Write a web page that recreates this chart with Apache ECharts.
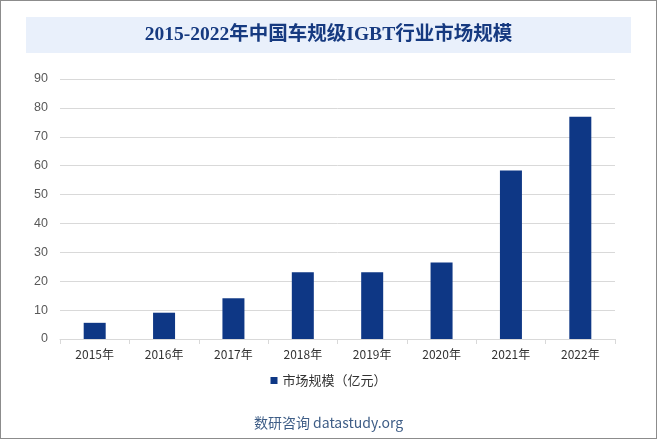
<!DOCTYPE html>
<html><head><meta charset="utf-8">
<script src="https://cdn.jsdelivr.net/npm/echarts@6/dist/echarts.min.js"></script>
<style>html,body{margin:0;padding:0;background:#fff}#c{width:657px;height:439px;box-sizing:border-box;border:1px solid #8c8c8c}</style>
</head><body><div id="c"></div>
<script>
const categories = ['2015年','2016年','2017年','2018年','2019年','2020年','2021年','2022年'];
const marketSize = [5.6, 9.1, 14.1, 23.1, 23.1, 26.5, 58.3, 76.9];
const seriesName = '市场规模（亿元）';
const titleText = '2015-2022年中国车规级IGBT行业市场规模';
const footerText = '数研咨询 datastudy.org';

const chart = echarts.init(document.getElementById('c'), null, {renderer:'canvas'});
chart.setOption({
  backgroundColor: '#fff',
  animation: false,
  graphic: [
    {type:'rect', shape:{x:25, y:16, width:605, height:36}, style:{fill:'#e9f0fb'}},
    {type:'text', left:'center', top:24, style:{text:titleText, fill:'#163a80', font:'bold 19.5px "Liberation Serif", "Noto Sans CJK SC"'}},
    {type:'text', left:'center', top:415, style:{text:footerText, fill:'#3e5d86', font:'14px "Noto Sans CJK SC", "Noto Sans"'}}
  ],
  grid: {left:59, right:41, top:78, bottom:99, containLabel:false},
  legend: {
    data:[seriesName], bottom:46, left:'center', itemWidth:7, itemHeight:7, icon:'rect', itemGap:5,
    textStyle:{color:'#333', fontSize:13, fontFamily:'"Noto Sans CJK SC"'}
  },
  xAxis: {
    type:'category', data:categories,
    axisLine:{lineStyle:{color:'#d9d9d9'}},
    axisTick:{show:true, length:5, lineStyle:{color:'#d9d9d9'}},
    axisLabel:{color:'#333', fontSize:12, margin:9, fontFamily:'"Noto Sans CJK SC"'}
  },
  yAxis: {
    type:'value', min:0, max:90, interval:10,
    axisLine:{show:false}, axisTick:{show:false},
    axisLabel:{color:'#595959', fontSize:12.5, margin:12, fontFamily:'"Liberation Sans"'},
    splitLine:{lineStyle:{color:'#d9d9d9'}}
  },
  series: [{
    name:seriesName, type:'bar', data:marketSize, barWidth:22,
    itemStyle:{color:'#0e3785'}
  }]
});
</script></body></html>
